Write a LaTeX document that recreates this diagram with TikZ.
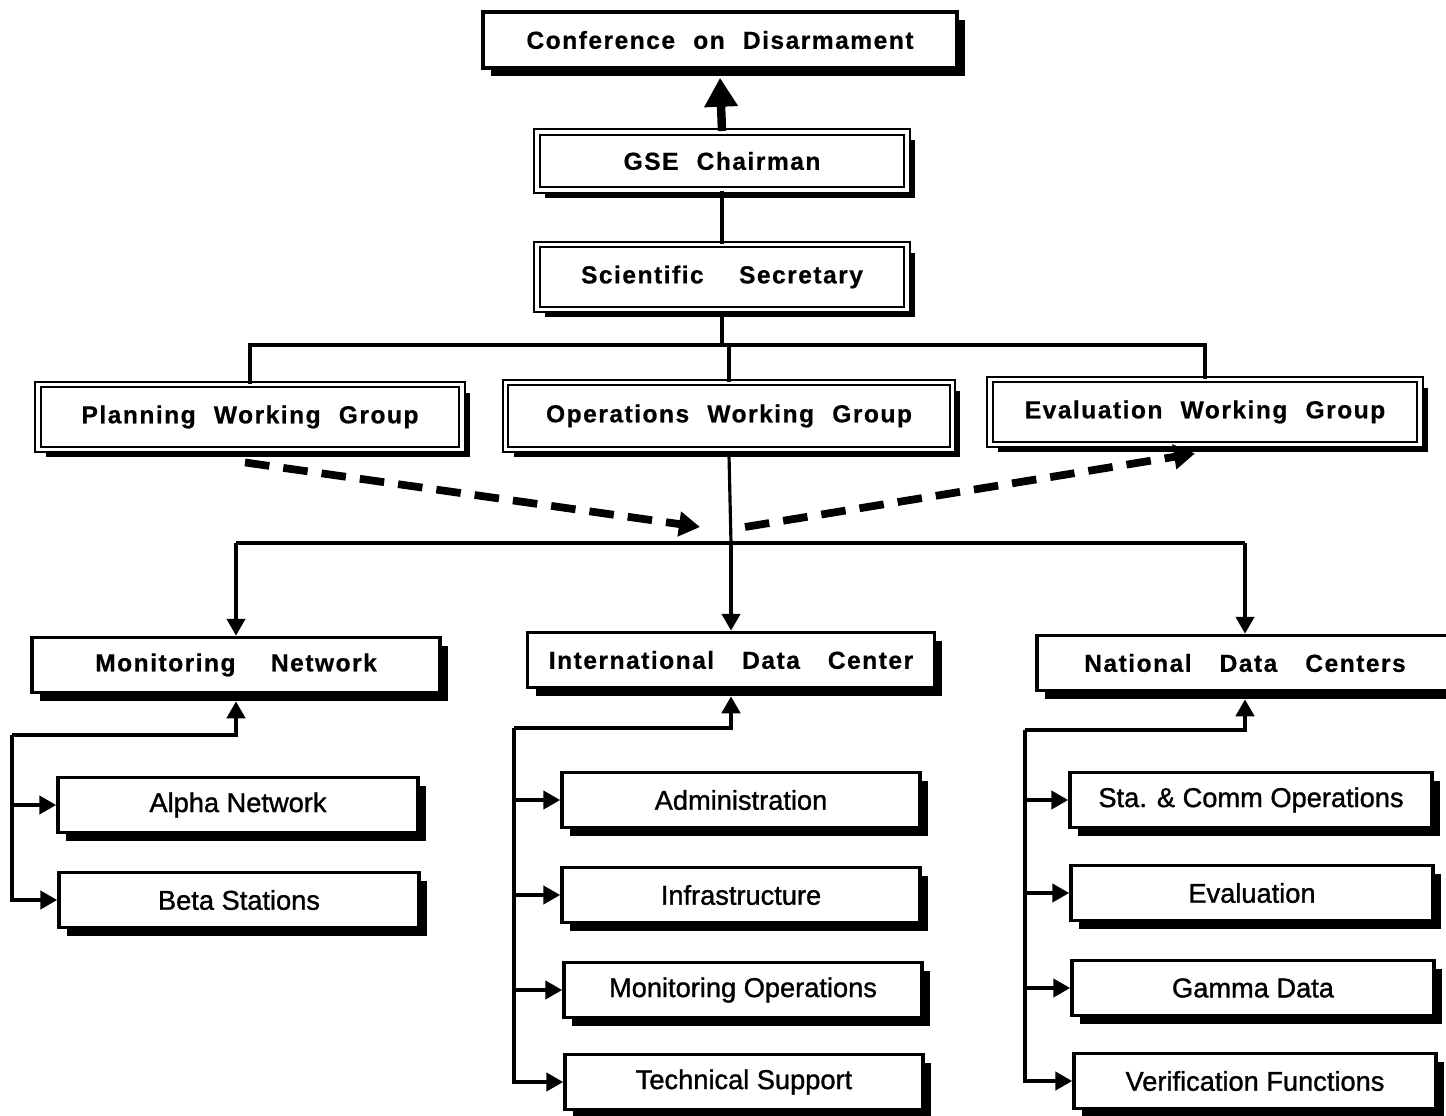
\documentclass[tikz,border=0pt]{standalone}
\usepackage{fontspec}
\setmainfont{Liberation Sans}
\newfontfamily\hdrfont[LetterSpace=6,FakeBold=0.6]{Liberation Sans}
\newfontfamily\subfont[FakeBold=1.2]{Liberation Sans}
\usetikzlibrary{arrows.meta,shadows}
\begin{document}
\begin{tikzpicture}[x=0.02cm,y=-0.02cm,
  box/.style={draw=black, line width=2pt, fill=white, inner sep=0pt,
    drop shadow={shadow xshift=0.16cm,shadow yshift=-0.16cm,opacity=1,fill=black}},
  hdr/.style={box, font=\hdrfont\bfseries\fontsize{14}{16}\selectfont},
  dbl/.style={hdr, double=white, double distance=2.2pt, line width=1.1pt},
  sub/.style={box, font=\subfont\fontsize{15.5}{18}\selectfont, minimum height=1.1cm},
  wire/.style={line width=2pt},
  arr/.style={line width=2.4pt, -{Triangle[length=0.34cm,width=0.36cm]}},
  bigarr/.style={line width=4.8pt, -{Triangle[length=0.58cm,width=0.64cm]}},
  dasharr/.style={line width=4.4pt, dash pattern=on 14pt off 8pt,
    -{Triangle[length=0.42cm,width=0.48cm]}}
]
\useasboundingbox (0,0) rectangle (1446,1115);
\fill[white] (0,0) rectangle (1446,1115);

% top chain
\node[hdr, minimum width=9.48cm, minimum height=1.12cm] (conf) at (720,40)
  {Conference\hspace{0.4em} on\hspace{0.4em} Disarmament};
\node[dbl, minimum width=7.4cm, minimum height=1.16cm] (gse) at (722,161)
  {GSE\hspace{0.4em} Chairman};
\node[dbl, minimum width=7.4cm, minimum height=1.3cm] (sci) at (722,277)
  {Scientific\hspace{1.1em} Secretary};

% working groups
\node[dbl, minimum width=8.48cm, minimum height=1.3cm] (pwg) at (250,417)
  {Planning\hspace{0.4em} Working\hspace{0.4em} Group};
\node[dbl, minimum width=8.94cm, minimum height=1.34cm] (owg) at (729,416)
  {Operations\hspace{0.4em} Working\hspace{0.4em} Group};
\node[dbl, minimum width=8.6cm, minimum height=1.3cm] (ewg) at (1205,412)
  {Evaluation\hspace{0.4em} Working\hspace{0.4em} Group};

% centres
\node[hdr, minimum width=8.16cm, minimum height=1.1cm] (mn) at (236,665)
  {Monitoring\hspace{1.1em} Network};
\node[hdr, minimum width=8.14cm, minimum height=1.1cm] (idc) at (731,660)
  {International\hspace{0.8em} Data\hspace{0.8em} Center};
\node[hdr, minimum width=8.32cm, minimum height=1.1cm] (ndc) at (1245,663)
  {National\hspace{0.8em} Data\hspace{0.8em} Centers};

% sub boxes
\node[sub, minimum width=7.2cm] (alpha) at (238,805) {Alpha Network};
\node[sub, minimum width=7.2cm] (beta) at (239,900) {Beta Stations};
\node[sub, minimum width=7.16cm] (adm) at (741,800) {Administration};
\node[sub, minimum width=7.16cm] (inf) at (741,895) {Infrastructure};
\node[sub, minimum width=7.16cm] (mop) at (743,990) {Monitoring Operations};
\node[sub, minimum width=7.16cm] (tec) at (744,1082) {Technical Support};
\node[sub, minimum width=7.24cm] (sta) at (1251,800) {Sta. \& Comm Operations};
\node[sub, minimum width=7.24cm] (eva) at (1252,893) {Evaluation};
\node[sub, minimum width=7.24cm] (gam) at (1253,988) {Gamma Data};
\node[sub, minimum width=7.24cm] (ver) at (1255,1081) {Verification Functions};

% connectors, top
\draw[bigarr] (gse.north) -- ([yshift=-0.16cm]conf.south);
\draw[line width=2.8pt] (gse.south) -- (sci.north);
\coordinate (bus1) at (722,345);
\draw[line width=1.8pt] ([yshift=-0.1cm]sci.south) -- (sci.south |- bus1);
\draw[line width=1.8pt] (pwg.north) -- (pwg.north |- bus1) -- (ewg.north |- bus1) -- (ewg.north);
\draw[line width=1.8pt] (owg.north |- bus1) -- (owg.north);

% bus to centres
\coordinate (bus2) at (731,543);
\draw[line width=1.8pt] ([yshift=-0.1cm]owg.south) -- (idc.north |- bus2);
\draw[line width=2.4pt] (mn.north |- bus2) -- (ndc.north |- bus2);
\draw[arr] (mn.north |- bus2) -- (mn.north);
\draw[arr] (idc.north |- bus2) -- (idc.north);
\draw[arr] (ndc.north |- bus2) -- (ndc.north);

% dashed arrows
\coordinate (pmid) at (700,527);
\coordinate (emid) at (745,527);
\draw[dasharr] ([shift={(-5,12)}]pwg.south) -- (pmid);
\draw[dasharr] (emid) -- ([shift={(-10,8)}]ewg.south);

% monitoring network sub bus
\coordinate (mnl) at (12,735);
\draw[arr] (mnl) -- (mn.south |- mnl) -- ([yshift=-0.14cm]mn.south);
\draw[arr] (mnl) |- (alpha.west);
\draw[arr] (mnl) |- (beta.west);

% IDC sub bus
\coordinate (idcl) at (514,728);
\draw[arr] (idcl) -- (idc.south |- idcl) -- ([yshift=-0.14cm]idc.south);
\draw[arr] (idcl) |- (adm.west);
\draw[arr] (idcl) |- (inf.west);
\draw[arr] (idcl) |- (mop.west);
\draw[arr] (idcl) |- (tec.west);

% NDC sub bus
\coordinate (ndcl) at (1025,730);
\draw[arr] (ndcl) -- (ndc.south |- ndcl) -- ([yshift=-0.14cm]ndc.south);
\draw[arr] (ndcl) |- (sta.west);
\draw[arr] (ndcl) |- (eva.west);
\draw[arr] (ndcl) |- (gam.west);
\draw[arr] (ndcl) |- (ver.west);
\end{tikzpicture}
\end{document}
